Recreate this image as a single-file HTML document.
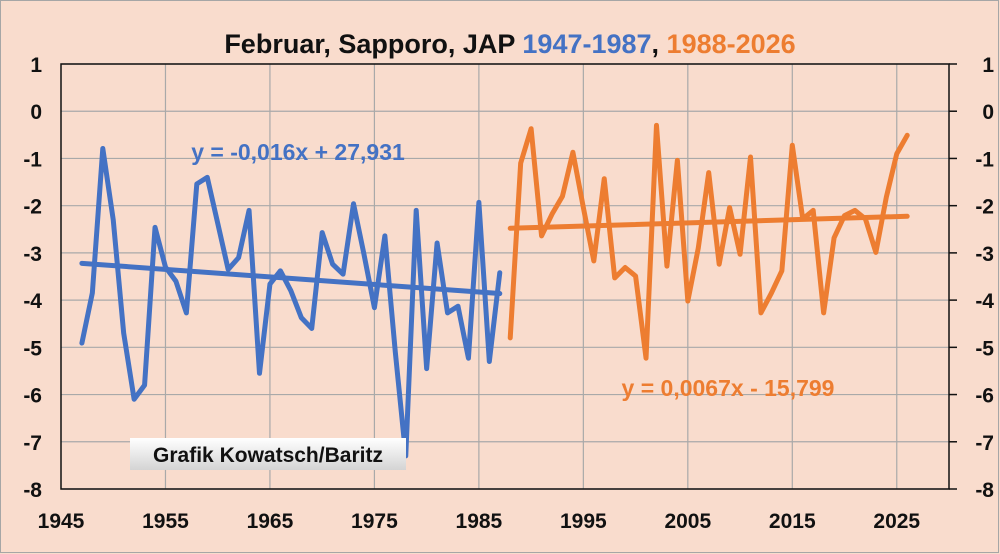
<!DOCTYPE html>
<html><head><meta charset="utf-8"><style>
html,body{margin:0;padding:0;background:#f9dccd;}
svg{display:block;font-family:"Liberation Sans",sans-serif;}
</style></head><body>
<svg id="chart" width="1000" height="554" viewBox="0 0 1000 554">
<rect x="0.5" y="0.5" width="998" height="552" fill="#f9dccd" stroke="#a6a6a6"/>
<text x="510" y="53" text-anchor="middle" font-size="27" font-weight="bold"><tspan fill="#111">Februar, Sapporo, JAP </tspan><tspan fill="#4472c4">1947-1987</tspan><tspan fill="#111">, </tspan><tspan fill="#ed7d31">1988-2026</tspan></text>
<g id="grid"></g>
<g id="axes"></g>
<g id="series"></g>
<text x="298" y="160" text-anchor="middle" font-size="23" font-weight="bold" fill="#4472c4">y = -0,016x + 27,931</text>
<text x="728" y="396" text-anchor="middle" font-size="23" font-weight="bold" fill="#ed7d31">y = 0,0067x - 15,799</text>
<defs><linearGradient id="lg" x1="0" y1="0" x2="0" y2="1"><stop offset="0" stop-color="#ffffff"/><stop offset="1" stop-color="#d4d4d4"/></linearGradient></defs>
<rect x="130" y="438" width="276" height="32" fill="url(#lg)"/>
<text x="268" y="462" text-anchor="middle" font-size="21" font-weight="bold" fill="#111">Grafik Kowatsch/Baritz</text>
</svg>
<script>
const blueYears=[1947,1948,1949,1950,1951,1952,1953,1954,1955,1956,1957,1958,1959,1960,1961,1962,1963,1964,1965,1966,1967,1968,1969,1970,1971,1972,1973,1974,1975,1976,1977,1978,1979,1980,1981,1982,1983,1984,1985,1986,1987];
const blueValues=[-4.91,-3.85,-0.79,-2.3,-4.7,-6.1,-5.8,-2.46,-3.3,-3.6,-4.27,-1.54,-1.4,-2.37,-3.35,-3.1,-2.1,-5.55,-3.66,-3.38,-3.8,-4.37,-4.6,-2.57,-3.24,-3.45,-1.96,-3.03,-4.16,-2.64,-5.1,-7.3,-2.1,-5.45,-2.79,-4.27,-4.13,-5.23,-1.93,-5.3,-3.42];
const orangeYears=[1988,1989,1990,1991,1992,1993,1994,1995,1996,1997,1998,1999,2000,2001,2002,2003,2004,2005,2006,2007,2008,2009,2010,2011,2012,2013,2014,2015,2016,2017,2018,2019,2020,2021,2022,2023,2024,2025,2026];
const orangeValues=[-4.8,-1.1,-0.37,-2.64,-2.18,-1.8,-0.87,-2.04,-3.17,-1.43,-3.53,-3.31,-3.49,-5.23,-0.3,-3.28,-1.04,-4.02,-2.9,-1.3,-3.24,-2.04,-3.03,-0.97,-4.27,-3.85,-3.38,-0.72,-2.28,-2.1,-4.27,-2.68,-2.21,-2.1,-2.28,-2.99,-1.82,-0.9,-0.51];
const blueTrend=[-0.016,27.931];
const orangeTrend=[0.0067,-15.799];
const xTicks=[1945,1955,1965,1975,1985,1995,2005,2015,2025];
const yTicks=[1,0,-1,-2,-3,-4,-5,-6,-7,-8];

const X0=61,X1=949,XMIN=1945,XMAX=2030,Y0=64,Y1=489,YMAX=1,YMIN=-8;
const xs=v=>X0+(v-XMIN)/(XMAX-XMIN)*(X1-X0);
const ys=v=>Y0+(YMAX-v)/(YMAX-YMIN)*(Y1-Y0);
const NS="http://www.w3.org/2000/svg";
function mk(tag,attrs,parent){const e=document.createElementNS(NS,tag);for(const k in attrs)e.setAttribute(k,attrs[k]);parent.appendChild(e);return e;}
const grid=document.getElementById('grid'),axes=document.getElementById('axes'),series=document.getElementById('series');
yTicks.forEach(t=>{
  const l=mk('line',{x1:X0,x2:X1,y1:ys(t),y2:ys(t),stroke:'#a9a9a9','stroke-width':1.2},grid);
  
  
  const a=mk('text',{x:42,y:ys(t)+8,'text-anchor':'end','font-size':21,'font-weight':'bold',fill:'#111'},axes);
  a.textContent=t;
  
  
  const b=mk('text',{x:994,y:ys(t)+8,'text-anchor':'end','font-size':21,'font-weight':'bold',fill:'#111'},axes);
  b.textContent=t;
  
  
  const tk=mk('line',{x1:X1,x2:X1+8,y1:ys(t),y2:ys(t),stroke:'#111','stroke-width':1.5},axes);
  
  
});
xTicks.forEach(t=>{
  if(t>XMIN){const l=mk('line',{x1:xs(t),x2:xs(t),y1:Y0,y2:Y1,stroke:'#a9a9a9','stroke-width':1.2},grid);
  
  }
  const a=mk('text',{x:xs(t),y:528,'text-anchor':'middle','font-size':21,'font-weight':'bold',fill:'#111'},axes);
  a.textContent=t;
  
  
});
const fr=mk('rect',{x:X0,y:Y0,width:X1-X0,height:Y1-Y0,fill:'none',stroke:'#111','stroke-width':1.5},axes);


function line(years,vals,color,name){
  const p=mk('polyline',{points:years.map((y,i)=>xs(y)+','+ys(vals[i])).join(' '),fill:'none',stroke:color,'stroke-width':5,'stroke-linejoin':'round','stroke-linecap':'round'},series);
  
  
}
function trend(years,c,color,name){
  const a=years[0],b=years[years.length-1];
  const l=mk('line',{x1:xs(a),y1:ys(c[0]*a+c[1]),x2:xs(b),y2:ys(c[0]*b+c[1]),stroke:color,'stroke-width':5,'stroke-linecap':'round'},series);
  
  
}
line(blueYears,blueValues,'#4472c4','series-1947-1987');
trend(blueYears,blueTrend,'#4472c4','trendline-1947-1987');
line(orangeYears,orangeValues,'#ed7d31','series-1988-2026');
trend(orangeYears,orangeTrend,'#ed7d31','trendline-1988-2026');
</script>
</body></html>
